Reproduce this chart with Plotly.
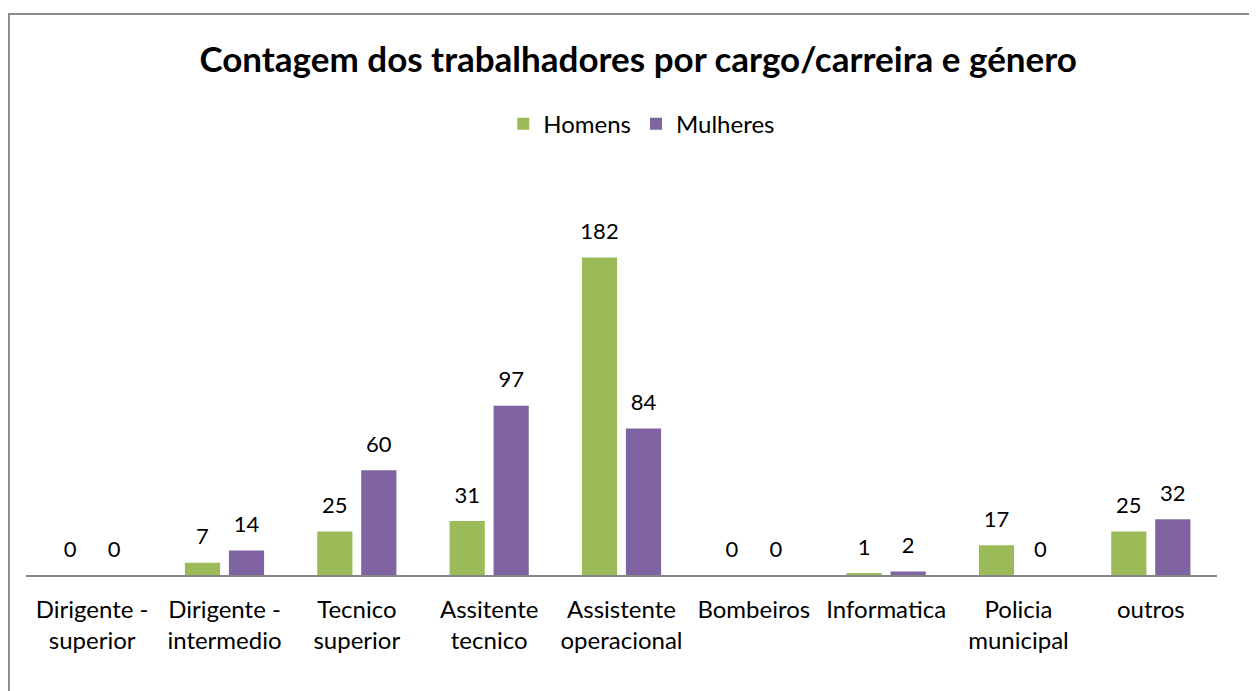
import plotly.graph_objects as go

categories = ["Dirigente -<br>superior", "Dirigente -<br>intermedio", "Tecnico<br>superior",
              "Assitente<br>tecnico", "Assistente<br>operacional", "Bombeiros", "Informatica",
              "Policia<br>municipal", "outros"]
homens = [0, 7, 25, 31, 182, 0, 1, 17, 25]
mulheres = [0, 14, 60, 97, 84, 0, 2, 0, 32]

GREEN = "#9BBB59"
PURPLE = "#8064A2"
FONT = "Lato"

fig = go.Figure()
fig.add_trace(go.Bar(x=categories, y=homens, name="Homens", marker=dict(color=GREEN, line=dict(width=0)),
                     offsetgroup="h", hoverinfo="skip"))
fig.add_trace(go.Bar(x=categories, y=mulheres, name="Mulheres", marker=dict(color=PURPLE, line=dict(width=0)),
                     offsetgroup="m", hoverinfo="skip"))
for vals, og in [(homens, "h"), (mulheres, "m")]:
    fig.add_trace(go.Scatter(x=categories, y=vals, mode="text+markers", text=[str(v) for v in vals],
                             textposition="top center", offsetgroup=og, showlegend=False,
                             marker=dict(size=19, opacity=0), cliponaxis=False,
                             textfont=dict(family=FONT, size=22, color="#000000"), hoverinfo="skip"))

fig.update_layout(
    width=1249, height=683,
    margin=dict(l=18, r=40, t=218, b=116),
    paper_bgcolor="white", plot_bgcolor="white",
    barmode="group", bargap=0.335, bargroupgap=0.20,
    scattermode="group", scattergap=0.335,
    font=dict(family=FONT, color="#000000"),
    title=dict(text="<b>Contagem dos trabalhadores por cargo/carreira e género</b>",
               font=dict(family=FONT, size=35, color="#000000"),
               x=0.514, xref="paper", xanchor="center", y=0.924, yanchor="middle"),
    legend=dict(orientation="h", x=0.517, xanchor="center", y=1.292, yanchor="middle",
                font=dict(family=FONT, size=24, color="#000000"), bgcolor="rgba(0,0,0,0)",
                itemwidth=30),
    showlegend=True,
)
fig.update_xaxes(showline=True, linecolor="#868686", linewidth=2, showgrid=False, ticks="",
                 tickfont=dict(family=FONT, size=24, color="#000000"), ticklabelstandoff=12,
                 fixedrange=True)
fig.update_yaxes(range=[0, 200], visible=False, showgrid=False, zeroline=False, fixedrange=True)

fig.add_shape(type="rect", xref="paper", yref="paper", x0=-0.0143, x1=1.05, y0=-0.40, y1=1.6074,
              line=dict(color="#8C8C8C", width=2), fillcolor="rgba(0,0,0,0)", layer="below")

fig.write_html("out.html")
